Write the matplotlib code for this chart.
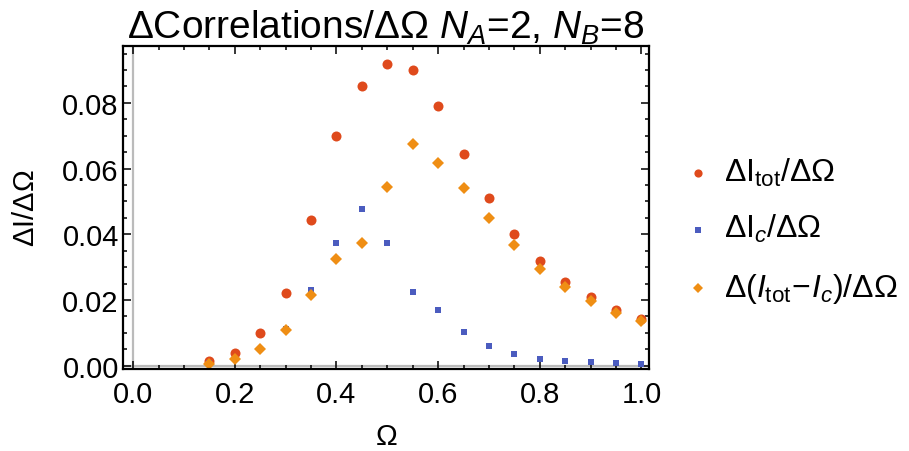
import matplotlib

matplotlib.use("Agg")
import matplotlib.pyplot as plt
from matplotlib.lines import Line2D
from matplotlib.ticker import MultipleLocator

plt.rcParams["font.family"] = ["Liberation Sans", "DejaVu Sans"]
plt.rcParams["mathtext.fontset"] = "custom"
plt.rcParams["mathtext.rm"] = "Liberation Sans"
plt.rcParams["mathtext.it"] = "Liberation Sans:italic"
plt.rcParams["mathtext.bf"] = "Liberation Sans:bold"

# Ω grid and finite-difference slopes
omega = [0.15, 0.20, 0.25, 0.30, 0.35, 0.40, 0.45, 0.50, 0.55, 0.60,
         0.65, 0.70, 0.75, 0.80, 0.85, 0.90, 0.95, 1.00]
d_itot = [0.0013, 0.0040, 0.0100, 0.0222, 0.0444, 0.0699, 0.0852, 0.0917, 0.0899, 0.0789,
          0.0644, 0.0510, 0.0402, 0.0318, 0.0256, 0.0208, 0.0171, 0.0143]
d_ic = [0.0007, 0.0021, 0.0050, 0.0112, 0.0229, 0.0373, 0.0478, 0.0372, 0.0224, 0.0171,
        0.0103, 0.0060, 0.0037, 0.0021, 0.0015, 0.0011, 0.0009, 0.0006]
d_diff = [0.0006, 0.0019, 0.0050, 0.0110, 0.0214, 0.0325, 0.0374, 0.0545, 0.0674, 0.0618,
          0.0542, 0.0451, 0.0366, 0.0295, 0.0239, 0.0196, 0.0161, 0.0135]

labels = [r"$\Delta\mathrm{I}_{\mathrm{tot}}/\Delta\Omega$",
          r"$\Delta\mathrm{I}_{c}/\Delta\Omega$",
          r"$\Delta(I_{\mathrm{tot}}\!-\!I_{c})/\Delta\Omega$"]

RED = "#DF4A1C"
BLUE = "#4B5CBF"
ORANGE = "#EF8E14"

fig = plt.figure(figsize=(9.09, 4.52), dpi=100)
ax = fig.add_axes([0.1353, 0.1814, 0.5787, 0.7146])

ax.axvline(0, color="#BBBBBB", linewidth=1.6, zorder=0)
ax.axhline(0, color="#BBBBBB", linewidth=1.6, zorder=0)

styles = [("o", RED, 7.2), ("s", BLUE, 4.6), ("D", ORANGE, 5.9)]
for ys, (mk, col, ms) in zip([d_itot, d_ic, d_diff], styles):
    ax.plot(omega, ys, mk, color=col, markersize=ms, markeredgewidth=0)

ax.set_xlim(-0.02, 1.015)
ax.set_ylim(-0.001, 0.0973)

ax.xaxis.set_major_locator(MultipleLocator(0.2))
ax.xaxis.set_minor_locator(MultipleLocator(0.05))
ax.yaxis.set_major_locator(MultipleLocator(0.02))
ax.yaxis.set_minor_locator(MultipleLocator(0.005))
ax.xaxis.set_major_formatter(lambda v, p: f"{v:.1f}")
ax.yaxis.set_major_formatter(lambda v, p: f"{v:.2f}")

ax.tick_params(which="both", direction="in", top=True, right=True,
               labelsize=21, color="black", width=1.1)
ax.tick_params(which="major", length=5.5)
ax.tick_params(which="minor", length=3)
ax.tick_params(axis="x", pad=8)
ax.tick_params(axis="y", pad=3)
for s in ax.spines.values():
    s.set_linewidth(1.6)

ax.set_xlabel(r"$\Omega$", fontsize=21)
ax.set_ylabel(r"$\Delta\mathrm{I}/\Delta\Omega$", fontsize=21)
ax.xaxis.set_label_coords(0.5, -0.165)
ax.yaxis.set_label_coords(-0.158, 0.5)
ax.set_title(r"$\Delta$Correlations/$\Delta\Omega$ $N_A$=2, $N_B$=8",
             fontsize=28, pad=3)

# legend to the right of the frame: marker column + text column
row_base = [0.597, 0.473, 0.343]
for (mk, col, ms), lab, yb in zip(styles, labels, row_base):
    fig.add_artist(Line2D([0.768], [yb + 0.017], transform=fig.transFigure,
                          marker=mk, color=col, markersize=ms * 0.82,
                          markeredgewidth=0, linestyle="none"))
    fig.text(0.797, yb, lab, fontsize=23, va="baseline", ha="left")

fig.savefig("out.png", dpi=100)
